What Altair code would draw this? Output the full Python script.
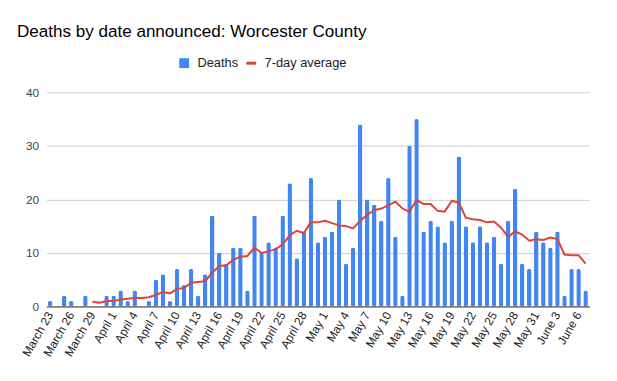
import altair as alt
import pandas as pd

dates = [
    "March 23", "March 24", "March 25", "March 26", "March 27", "March 28", "March 29",
    "March 30", "March 31", "April 1", "April 2", "April 3", "April 4", "April 5",
    "April 6", "April 7", "April 8", "April 9", "April 10", "April 11", "April 12",
    "April 13", "April 14", "April 15", "April 16", "April 17", "April 18", "April 19",
    "April 20", "April 21", "April 22", "April 23", "April 24", "April 25", "April 26",
    "April 27", "April 28", "April 29", "April 30", "May 1", "May 2", "May 3",
    "May 4", "May 5", "May 6", "May 7", "May 8", "May 9", "May 10",
    "May 11", "May 12", "May 13", "May 14", "May 15", "May 16", "May 17",
    "May 18", "May 19", "May 20", "May 21", "May 22", "May 23", "May 24",
    "May 25", "May 26", "May 27", "May 28", "May 29", "May 30", "May 31",
    "June 1", "June 2", "June 3", "June 4", "June 5", "June 6", "June 7",
]

deaths = [
    1, 0, 2, 1, 0, 2, 0,
    0, 2, 2, 3, 1, 3, 0,
    1, 5, 6, 1, 7, 4, 7,
    2, 6, 17, 10, 8, 11, 11,
    3, 17, 10, 12, 11, 17, 23,
    9, 14, 24, 12, 13, 14, 20,
    8, 11, 34, 20, 19, 16, 24,
    13, 2, 30, 35, 14, 16, 15,
    12, 16, 28, 15, 12, 15, 12,
    13, 8, 16, 22, 8, 7, 14,
    12, 11, 14, 2, 7, 7, 3,
]

avg7 = [
    None, None, None, None, None, None, 0.86,
    0.71, 1.00, 1.00, 1.29, 1.43, 1.57, 1.57,
    1.71, 2.14, 2.71, 2.43, 3.29, 3.43, 4.43,
    4.57, 4.71, 6.29, 7.57, 7.71, 8.71, 9.29,
    9.43, 11.00, 10.00, 10.29, 10.71, 11.57, 13.29,
    14.14, 13.71, 15.71, 15.71, 16.00, 15.57, 15.14,
    15.00, 14.57, 16.00, 17.14, 18.00, 18.29, 18.86,
    19.57, 18.29, 17.71, 19.86, 19.14, 19.14, 17.86,
    17.71, 19.71, 19.43, 16.57, 16.29, 16.14, 15.71,
    15.86, 14.71, 13.00, 14.00, 13.43, 12.29, 12.57,
    12.43, 12.86, 12.57, 9.71, 9.57, 9.57, 8.00,
]

tick_labels = dates[::3]
y_ticks = [0, 10, 20, 30, 40]

df = pd.DataFrame({
    "date": dates,
    "deaths": deaths,
    "avg": avg7,
    "s_bar": ["Deaths"] * len(dates),
    "s_line": ["7-day average"] * len(dates),
})

FONT = "Liberation Sans"

x_enc = alt.X(
    "date:N",
    sort=dates,
    scale=alt.Scale(paddingInner=0.36, paddingOuter=0.2),
    axis=alt.Axis(
        values=tick_labels, labelAngle=-60, title=None, ticks=False, grid=False,
        domainColor="#333333", labelFontSize=12, labelColor="#222222",
        labelPadding=6, labelFont=FONT,
    ),
)

y_scale = alt.Scale(domain=[0, 40])
y_axis = alt.Axis(
    values=y_ticks, title=None, domain=False, ticks=False, gridColor="#cccccc",
    labelPadding=8, labelFontSize=12, labelColor="#444444", labelFont=FONT,
)

bars = alt.Chart(df).mark_bar(cornerRadius=2).encode(
    x=x_enc,
    y=alt.Y("deaths:Q", scale=y_scale, axis=y_axis),
    fill=alt.Fill(
        "s_bar:N",
        scale=alt.Scale(domain=["Deaths"], range=["#4285F4"]),
        legend=alt.Legend(
            title=None, orient="none", legendX=133, legendY=-36, symbolType="square",
            symbolSize=100, symbolStrokeWidth=0, labelFontSize=13, labelColor="#222222",
            labelFont=FONT, labelOffset=7, padding=0,
        ),
    ),
)

line = alt.Chart(df).mark_line(strokeWidth=2).encode(
    x=x_enc,
    y=alt.Y("avg:Q", scale=y_scale, axis=y_axis),
    stroke=alt.Stroke(
        "s_line:N",
        scale=alt.Scale(domain=["7-day average"], range=["#DB4437"]),
        legend=alt.Legend(
            title=None, orient="none", legendX=201, legendY=-36, symbolType="stroke",
            symbolSize=100, symbolStrokeWidth=3, labelFontSize=13, labelColor="#222222",
            labelFont=FONT, labelOffset=7, padding=0,
        ),
    ),
)

chart = alt.layer(bars, line).properties(
    width=550,
    height=217,
    autosize="none",
    padding={"left": 39, "top": 83, "right": 20, "bottom": 65},
    title=alt.TitleParams(
        "Deaths by date announced: Worcester County",
        anchor="start", frame="group", dx=-30, fontSize=17.3, font=FONT,
        fontWeight="normal", color="#000000", baseline="alphabetic", offset=3,
    ),
).configure_view(stroke=None)

chart.save("out.html", embed_options={"renderer": "svg", "actions": False})
